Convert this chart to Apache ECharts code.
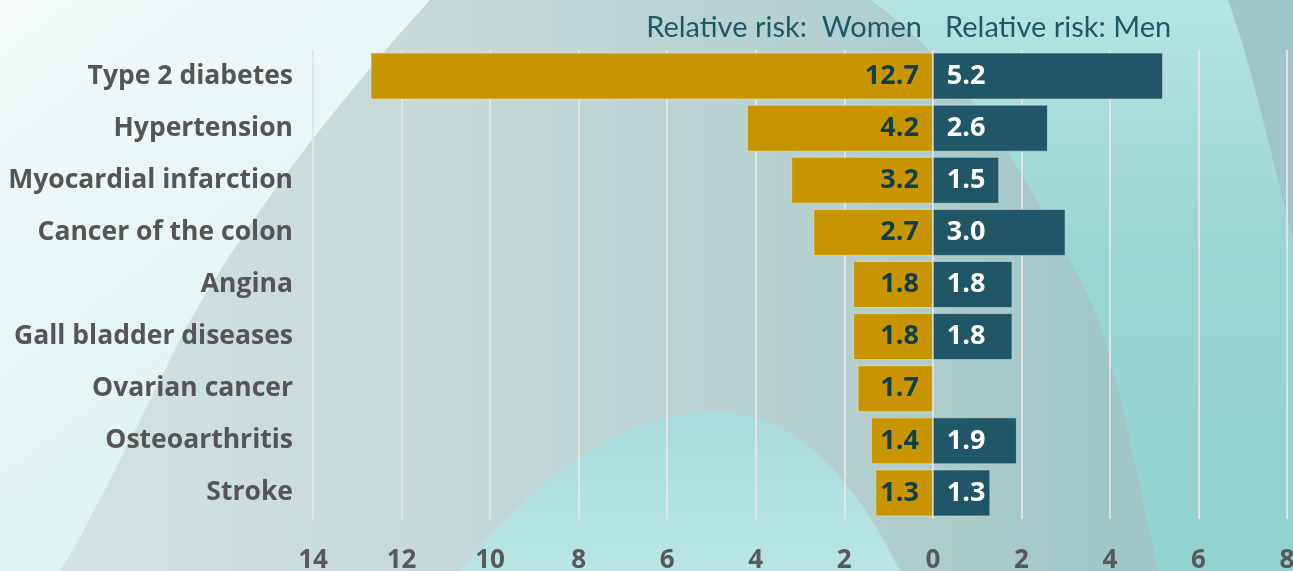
<!DOCTYPE html>
<html>
<head>
<meta charset="UTF-8">
<title>Relative risk</title>
<style>
  html, body { margin: 0; padding: 0; }
  #container { width: 1293px; height: 571px; }
</style>
</head>
<body>
<div id="container"></div>
<script src="https://cdn.jsdelivr.net/npm/echarts@6/dist/echarts.min.js"></script>
<script>
  // data
  var categories = ['Type 2 diabetes', 'Hypertension', 'Myocardial infarction', 'Cancer of the colon',
    'Angina', 'Gall bladder diseases', 'Ovarian cancer', 'Osteoarthritis', 'Stroke'];
  var women = [12.7, 4.2, 3.2, 2.7, 1.8, 1.8, 1.7, 1.4, 1.3];
  var men = [5.2, 2.6, 1.5, 3.0, 1.8, 1.8, null, 1.9, 1.3];

  var myChart = echarts.init(document.getElementById('container'));

  // helpers for the background decoration
  function grad(x2, y2, stops) {
    return {
      type: 'linear', x: 0, y: 0, x2: x2, y2: y2,
      colorStops: stops.map(function (s) { return { offset: s[0], color: s[1] }; })
    };
  }
  // list of segments: points [x,y] or cubic curves {c: [[x1,y1],[x2,y2],[x,y]]}
  function shapePoints(start, segs) {
    var pts = [start], cur = start;
    segs.forEach(function (s) {
      if (s.c) {
        var p1 = s.c[0], p2 = s.c[1], p3 = s.c[2];
        for (var i = 1; i <= 24; i++) {
          var t = i / 24, u = 1 - t;
          pts.push([
            u * u * u * cur[0] + 3 * u * u * t * p1[0] + 3 * u * t * t * p2[0] + t * t * t * p3[0],
            u * u * u * cur[1] + 3 * u * u * t * p1[1] + 3 * u * t * t * p2[1] + t * t * t * p3[1]
          ]);
        }
        cur = p3;
      } else {
        pts.push(s);
        cur = s;
      }
    });
    return pts;
  }

  var bg = [
    {
      type: 'rect', z: -10, shape: { x: 0, y: 0, width: 1293, height: 571 },
      style: {
        fill: grad(1, 0, [[0, '#d6e3e3'], [0.35, '#c6d8d8'], [0.65, '#b4cfcf'], [0.85, '#a2c6c6'], [1, '#9cc4c4']])
      }
    },
    {
      // light cyan area on the right
      type: 'polygon', z: -9,
      shape: {
        points: shapePoints([870, 0], [
          [1293, 0], [1293, 571], [1158, 571],
          { c: [[1130, 440], [1110, 340], [1090, 300]] },
          { c: [[1030, 180], [960, 60], [870, 0]] }
        ])
      },
      style: { fill: grad(0, 1, [[0, '#b6e4e1'], [0.45, '#98d6d2'], [1, '#91d3cf']]) }
    },
    {
      // darker curve in the top right corner
      type: 'polygon', z: -8,
      shape: {
        points: shapePoints([1228, 0], [
          [1293, 0], [1293, 240],
          { c: [[1270, 150], [1250, 60], [1228, 0]] }
        ])
      },
      style: { fill: '#9fc6c6' }
    },
    {
      // light area on the left
      type: 'polygon', z: -8,
      shape: {
        points: shapePoints([0, 0], [
          [430, 0],
          { c: [[330, 110], [220, 250], [160, 380]] },
          { c: [[110, 480], [80, 540], [60, 571]] },
          [0, 571]
        ])
      },
      style: { fill: grad(1, 1, [[0, '#f5fbfb'], [0.6, '#e2f3f3'], [1, '#d4eeee']]) }
    },
    {
      // bell shaped light area at the bottom
      type: 'polygon', z: -8,
      shape: {
        points: shapePoints([460, 571], [
          { c: [[560, 450], [640, 412], [717, 412]] },
          { c: [[790, 412], [850, 470], [900, 571]] }
        ])
      },
      style: { fill: grad(0, 1, [[0, '#a9dcdc'], [1, '#b9e6e4']]) }
    }
  ];

  myChart.setOption({
    animation: false,
    graphic: bg,
    title: [
      {
        text: 'Relative risk:  Women',
        right: 366, top: 8,
        textStyle: { fontFamily: 'Lato', fontWeight: 'normal', fontSize: 29, color: '#1d5966' }
      },
      {
        text: 'Relative risk: Men',
        left: 940, top: 8,
        textStyle: { fontFamily: 'Lato', fontWeight: 'normal', fontSize: 29, color: '#1d5966' }
      }
    ],
    grid: { left: 313, right: 6, top: 50, bottom: 52, containLabel: false, outerBoundsMode: 'none' },
    xAxis: {
      type: 'value',
      min: -14, max: 8, interval: 2,
      axisLine: { show: false },
      axisTick: { show: false },
      splitLine: { show: true, lineStyle: { color: 'rgba(228,228,228,0.95)', width: 2 } },
      axisLabel: {
        margin: 29,
        fontFamily: 'Open Sans', fontWeight: 'bold', fontSize: 26, color: '#595959',
        formatter: function (v) { return Math.abs(v); }
      }
    },
    yAxis: {
      type: 'category',
      data: categories,
      inverse: true,
      axisLine: { show: false },
      axisTick: { show: false },
      splitLine: { show: false },
      axisLabel: {
        margin: 20, padding: [8, 0, 0, 0],
        fontFamily: 'Open Sans', fontWeight: 'bold', fontSize: 26.5, color: '#555555'
      }
    },
    series: [
      {
        name: 'Women', type: 'bar', stack: 'risk',
        barWidth: 47,
        data: women.map(function (v) { return v == null ? null : -v; }),
        itemStyle: { color: '#c89500', borderColor: 'rgba(230,230,210,0.6)', borderWidth: 1 },
        label: {
          show: true, position: 'insideRight', distance: 14, padding: [6, 0, 0, 0],
          fontFamily: 'Open Sans', fontWeight: 'bold', fontSize: 27, color: '#0e3e47',
          formatter: function (p) { return Math.abs(p.value).toFixed(1); }
        }
      },
      {
        name: 'Men', type: 'bar', stack: 'risk',
        barWidth: 47,
        data: men,
        itemStyle: { color: '#1f5766', borderColor: 'rgba(200,220,220,0.6)', borderWidth: 1 },
        label: {
          show: true, position: 'insideLeft', distance: 14, padding: [6, 0, 0, 0],
          fontFamily: 'Open Sans', fontWeight: 'bold', fontSize: 27, color: '#ffffff',
          formatter: function (p) { return p.value == null ? '' : Number(p.value).toFixed(1); }
        }
      }
    ]
  });
</script>
</body>
</html>
